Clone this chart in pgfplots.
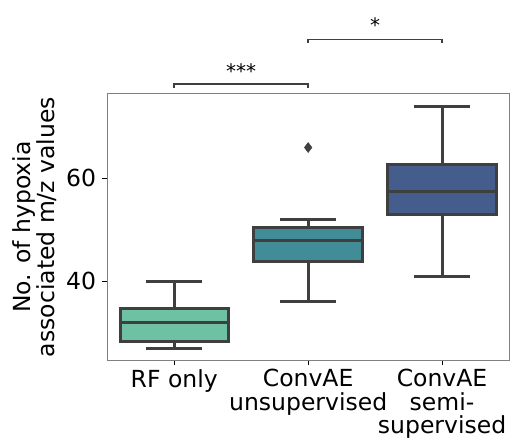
\documentclass[border=0pt]{standalone}
\usepackage{fontspec}
\setmainfont{DejaVu Sans}
\usepackage{pgfplots}
\pgfplotsset{compat=1.18}
\usepgfplotslibrary{statistics}
\definecolor{c1}{RGB}{110,194,163}
\definecolor{c2}{RGB}{66,140,152}
\definecolor{c3}{RGB}{69,93,140}
\definecolor{edge}{RGB}{63,63,63}
\newcommand{\lblfont}{\fontsize{23.5bp}{23.5bp}\selectfont}
\newcommand{\ylblfont}{\fontsize{23.5bp}{22bp}\selectfont}
\newcommand{\starfont}{\fontsize{20bp}{22bp}\selectfont}
\begin{document}
\begin{tikzpicture}
\path[use as bounding box] (-107.3bp,-86bp) rectangle (402.7bp,360bp);
\begin{axis}[
  at={(0,0)}, anchor=south west,
  scale only axis, width=401.7bp, height=266bp,
  xmin=-0.5, xmax=2.5, ymin=24.7, ymax=76.4,
  xtick={0,1,2},
  xticklabels={RF only,{ConvAE\\unsupervised},{ConvAE\\semi-\\supervised}},
  xticklabel style={align=center, font=\lblfont, inner sep=4bp},
  yticklabel style={font=\lblfont, inner sep=6bp},
  ytick={40,60},
  /pgf/number format/assume math mode=true,
  clip=false,
  axis line style={draw=gray, line width=1bp},
  tick style={black, line width=0.9bp},
  tick align=outside, major tick length=5bp,
  xtick pos=bottom, ytick pos=left,
  ylabel={No. of hypoxia\\associated m/z values},
  ylabel style={align=center, font=\ylblfont, inner sep=0pt,
    at={([xshift=-50.5bp]rel axis cs:0,0.5)}, anchor=south},
  boxplot/draw direction=y,
]
\addplot+[boxplot prepared={draw position=0, lower whisker=27, lower quartile=28.2, median=32, upper quartile=34.7, upper whisker=40, box extend=0.81, whisker extend=0.42}, fill=c1, draw=edge, line width=3bp, solid, mark=none] coordinates {};
\addplot+[boxplot prepared={draw position=1, lower whisker=36, lower quartile=43.8, median=48, upper quartile=50.5, upper whisker=52, box extend=0.81, whisker extend=0.42}, fill=c2, draw=edge, line width=3bp, solid, mark=diamond*, mark size=5bp, mark options={fill=edge, draw=edge, line width=0.5bp}] table[row sep=\\, y index=0] {y\\ 66\\};
\addplot+[boxplot prepared={draw position=2, lower whisker=41, lower quartile=53, median=57.5, upper quartile=62.7, upper whisker=74, box extend=0.81, whisker extend=0.42}, fill=c3, draw=edge, line width=3bp, solid, mark=none] coordinates {};
\draw[edge, line width=1.5bp] (axis cs:0,77.6) -- (axis cs:0,78.3) -- (axis cs:1,78.3) -- (axis cs:1,77.6);
\node[anchor=base, font=\starfont, inner sep=0pt] at (axis cs:0.5,79.5) {***};
\draw[edge, line width=1.5bp] (axis cs:1,86.4) -- (axis cs:1,86.95) -- (axis cs:2,86.95) -- (axis cs:2,86.4);
\node[anchor=base, font=\starfont, inner sep=0pt] at (axis cs:1.5,88.3) {*};
\end{axis}
\end{tikzpicture}
\end{document}
